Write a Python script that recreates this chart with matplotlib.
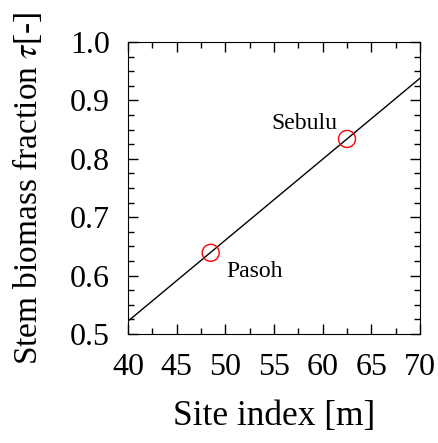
import matplotlib
matplotlib.use("Agg")
import matplotlib.pyplot as plt
from matplotlib.ticker import MultipleLocator

plt.rcParams['font.family'] = ['Liberation Serif', 'DejaVu Serif']
plt.rcParams['mathtext.fontset'] = 'stix'

# regression line end points
line_x = [40, 70]
line_y = [0.522, 0.938]

# sites
site_names = ["Pasoh", "Sebulu"]
site_x = [48.5, 62.5]
site_y = [0.639, 0.834]

fig = plt.figure(figsize=(4.38, 4.43), dpi=100)
ax = fig.add_axes([128 / 438, 1 - 334 / 443, 292 / 438, 292 / 443])

ax.plot(line_x, line_y, color="black", lw=1)
ax.scatter(site_x, site_y, s=150, facecolors="none", edgecolors="red", lw=1, zorder=3)

ax.text(site_x[0] + 1.6, site_y[0] - 0.032, site_names[0], fontsize=17, ha="left", va="center")
ax.text(site_x[1] - 1.0, site_y[1] + 0.027, site_names[1], fontsize=17, ha="right", va="center")

ax.set_xlim(40, 70)
ax.set_ylim(0.5, 1.0)
ax.xaxis.set_major_locator(MultipleLocator(5))
ax.xaxis.set_minor_locator(MultipleLocator(2.5))
ax.yaxis.set_major_locator(MultipleLocator(0.1))
ax.yaxis.set_minor_locator(MultipleLocator(0.025))
ax.set_yticklabels([f"{v:.1f}" for v in ax.get_yticks()])

ax.tick_params(which="both", direction="in", top=True, right=True, width=1)
ax.tick_params(which="major", length=7, labelsize=23)
ax.tick_params(axis="x", which="major", pad=14)
ax.tick_params(axis="y", which="major", pad=13)
ax.tick_params(which="minor", length=4)

ax.set_xlabel("Site index [m]", fontsize=25.5, labelpad=13)
ax.set_ylabel(r"Stem biomass fraction $\tau$[-]", fontsize=24, labelpad=19)

fig.savefig("out.png", dpi=100)
